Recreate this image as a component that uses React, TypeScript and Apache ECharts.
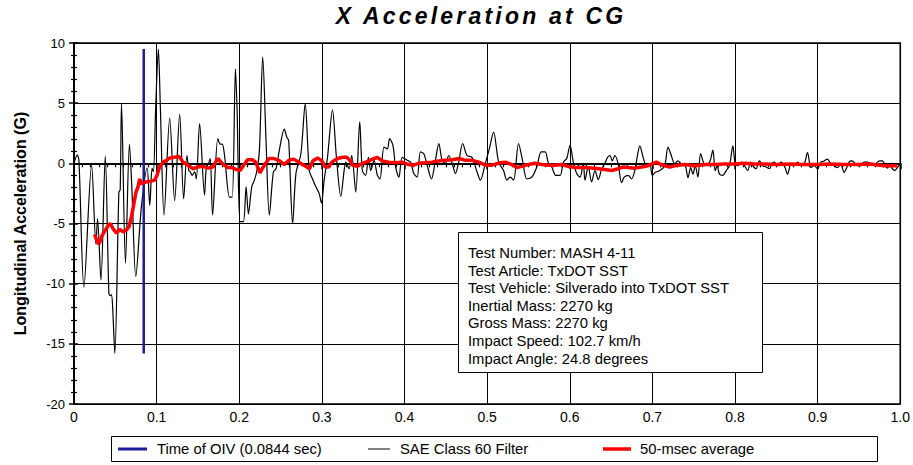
import React, { useEffect, useRef } from "react";
import * as echarts from "echarts";

const FONT = "'Liberation Sans', Arial, sans-serif";
const TITLE = "X Acceleration at CG";
const Y_NAME = "Longitudinal Acceleration (G)";

const X_MIN = 0;
const X_MAX = 1;
const X_STEP = 0.1;
const Y_MIN = -20;
const Y_MAX = 10;
const Y_STEP = 5;

const OIV_TIME = 0.0844;
const OIV_SPAN = [-15.8, 9.5];

const legendLabels = ["Time of OIV (0.0844 sec)", "SAE Class 60 Filter", "50-msec average"];

const infoLines = [
  "Test Number: MASH 4-11",
  "Test Article: TxDOT SST",
  "Test Vehicle: Silverado into TxDOT SST",
  "Inertial Mass: 2270 kg",
  "Gross Mass: 2270 kg",
  "Impact Speed: 102.7 km/h",
  "Impact Angle: 24.8 degrees",
];

// SAE Class 60 filtered signal (time s, G)
const sae60 = [
  [0.0, 0], [0.004, 0.7], [0.006, 0.2], [0.012, -10.3], [0.0213, -0.15], [0.0265, -6.7],
  [0.0285, -4.6], [0.0326, -9.7], [0.0378, 0.6], [0.0422, -10.8], [0.0438, -11.0], [0.0452, -10.9],
  [0.0466, -11.7], [0.0494, -15.8], [0.0543, -2.4], [0.0559, -2.2], [0.0575, 5.0], [0.0623, -8.3],
  [0.0671, 1.6], [0.07, -2.0], [0.0748, -9.4], [0.0816, -3.6], [0.0885, -0.4], [0.0917, -3.5],
  [0.0945, -0.4], [0.0961, -0.7], [0.0989, 4.7], [0.1021, 9.5], [0.1045, 4.7], [0.109, -4.3],
  [0.1158, 3.75], [0.1218, -3.1], [0.1279, 4.1], [0.1327, -2.95], [0.1367, 0.65], [0.139, -0.6],
  [0.1407, -0.7], [0.1431, -1.0], [0.146, -0.7], [0.148, -1.3], [0.152, 3.3], [0.158, -2.65],
  [0.16, -0.45], [0.1628, 0], [0.1649, 0.4], [0.1677, -4.3], [0.1741, 2.05], [0.177, 1.6],
  [0.1794, 1.6], [0.1822, 0.65], [0.1882, -2.8], [0.1915, -2.8], [0.1954, 7.85], [0.1974, 4.4],
  [0.201, -4.85], [0.205, -4.85], [0.2083, -1.95], [0.2111, -4.2], [0.2151, -1.95], [0.2183, -1.4],
  [0.2211, -0.7], [0.2244, 1.1], [0.2284, 8.85], [0.2324, 1.9], [0.2364, -4.3], [0.2413, -0.7],
  [0.2445, -0.45], [0.2485, 1.1], [0.2545, 2.85], [0.2574, 2.2], [0.2598, 1.9], [0.2646, -5.0],
  [0.2686, -0.85], [0.2746, 0.8], [0.2798, 4.95], [0.2847, -0.6], [0.2887, -1.3], [0.2927, -1.95],
  [0.2967, -2.5], [0.2995, -3.3], [0.3027, -1.4], [0.3068, 0.5], [0.3128, 4.45], [0.3176, 0.5],
  [0.3229, -2.75], [0.3269, -0.6], [0.3289, 0.1], [0.3329, -0.45], [0.3361, 0.65], [0.341, -2.4],
  [0.3458, 3.45], [0.349, -0.6], [0.353, -1.0], [0.3563, 0.5], [0.3591, -0.6], [0.3631, 0.25],
  [0.3672, -1.0], [0.3703, -1.3], [0.3752, 1.35], [0.3792, 1.2], [0.382, 2.05], [0.386, 1.5],
  [0.3892, -0.3], [0.3932, -1.15], [0.3973, 0.5], [0.4033, 0.25], [0.4073, 0.1], [0.4113, -0.85],
  [0.4153, -1.15], [0.4193, 0.95], [0.4234, 0.8], [0.4274, -0.15], [0.4326, -1.3], [0.4374, 0.25],
  [0.4415, 1.65], [0.4455, 0.25], [0.4495, 0], [0.4535, 0.65], [0.4576, 0], [0.4616, -0.85],
  [0.4656, 0.1], [0.4704, 1.65], [0.4757, 0.65], [0.4817, 0.5], [0.4877, -0.7], [0.4918, -1.4],
  [0.4978, 0], [0.5026, 1.2], [0.5078, 2.6], [0.5139, 0.1], [0.5199, -0.6], [0.5239, -1.4],
  [0.528, -1.15], [0.532, -1.4], [0.538, 1.65], [0.5428, 0.25], [0.5481, -1.3], [0.5541, -1.15],
  [0.5601, -0.3], [0.5654, 0.95], [0.5702, 0.95], [0.5742, 0], [0.5782, -0.3], [0.583, -1.0],
  [0.5883, -1.0], [0.5923, 0.1], [0.5963, 0.4], [0.6003, 1.5], [0.6043, 0.1], [0.6084, -0.85],
  [0.6124, -1.15], [0.6164, 0], [0.6184, -1.4], [0.6224, -0.3], [0.6264, -1.55], [0.6305, -0.6],
  [0.6345, -1.35], [0.6385, -0.5], [0.6425, 0.0], [0.6458, 0.5], [0.6486, 0.65], [0.6514, 0.2],
  [0.6546, 0.65], [0.6586, -0.05], [0.6627, -1.6], [0.6659, -1.15], [0.6707, -1.0], [0.6747, -1.3],
  [0.6787, -0.6], [0.6819, 0.65], [0.6848, 1.45], [0.6888, 0.5], [0.6928, -0.2], [0.6968, -0.05],
  [0.7, -1.0], [0.7037, -0.75], [0.7089, -0.6], [0.7149, -0.2], [0.7189, 1.35], [0.7229, 0.65],
  [0.727, -0.05], [0.731, 0.2], [0.735, -0.05], [0.7398, -0.2], [0.7431, -1.2], [0.7463, -0.35],
  [0.7491, -0.9], [0.7519, -0.2], [0.7551, -1.15], [0.7583, 0.8], [0.7612, 0.2], [0.7632, -0.2],
  [0.7692, 0.1], [0.7732, 1.1], [0.776, -0.6], [0.7784, -0.2], [0.7812, -0.9], [0.7853, -1.0],
  [0.7893, -0.6], [0.7933, -0.2], [0.7974, 1.45], [0.8002, -0.05], [0.8034, -0.2], [0.8074, 0.1],
  [0.8114, -0.2], [0.8155, -0.6], [0.8187, 0.1], [0.8215, -0.2], [0.8255, -0.45], [0.8295, 0.2],
  [0.8335, -0.2], [0.8376, -0.3], [0.8416, -0.45], [0.8444, -0.05], [0.8476, 0.1], [0.8516, -0.2],
  [0.8556, 0.1], [0.8597, -0.2], [0.8637, -0.9], [0.8677, -0.05], [0.8717, -0.2], [0.8758, 0.1],
  [0.8798, -0.2], [0.8838, -0.05], [0.8878, 0.9], [0.8918, -0.35], [0.8958, -0.2], [0.8999, -0.45],
  [0.9039, 0.1], [0.9079, 0.2], [0.9119, 0.35], [0.9159, -0.05], [0.92, -0.2], [0.924, -0.35],
  [0.928, -0.05], [0.932, -0.75], [0.9353, -0.35], [0.9381, 0.1], [0.9409, 0.2], [0.9441, 0.1],
  [0.9481, -0.2], [0.9521, -0.2], [0.9562, 0.1], [0.9602, 0.1], [0.9642, -0.05], [0.9682, -0.2],
  [0.9722, 0.1], [0.9763, 0.2], [0.9783, 0.2], [0.9811, -0.05], [0.9843, -0.4], [0.9875, -0.2],
  [0.9903, -0.45], [0.9936, -0.6], [0.9964, -0.35], [0.9996, -0.1],
];

// 50-msec moving average (time s, G)
const avg50 = [
  [0.025, -5.9], [0.027, -6.3], [0.0295, -6.7], [0.031, -6.6], [0.034, -6.0], [0.0375, -5.6],
  [0.0415, -5.15], [0.044, -5.0], [0.047, -5.4], [0.0515, -5.8], [0.0555, -5.5], [0.0595, -5.7],
  [0.063, -5.55], [0.0665, -5.3], [0.0695, -4.45], [0.0725, -3.35], [0.075, -2.4], [0.0775, -1.95],
  [0.0795, -1.3], [0.0815, -1.7], [0.087, -1.55], [0.092, -1.5], [0.0975, -1.4], [0.1005, -1.0],
  [0.1035, -0.3], [0.108, 0.1], [0.112, 0.25], [0.116, 0.45], [0.122, 0.5], [0.126, 0.6],
  [0.129, 0.4], [0.132, 0.1], [0.138, -0.15], [0.144, -0.45], [0.15, -0.3], [0.156, -0.25],
  [0.162, -0.4], [0.168, -0.3], [0.174, 0.4], [0.18, -0.05], [0.186, -0.35], [0.191, -0.35],
  [0.196, -0.5], [0.201, -0.6], [0.205, -0.2], [0.21, 0.3], [0.216, 0.3], [0.22, 0.1],
  [0.225, -0.8], [0.23, -0.2], [0.236, 0.4], [0.242, 0.4], [0.248, 0.25], [0.2546, -0.1],
  [0.26, 0.25], [0.266, 0.35], [0.272, 0.1], [0.278, -0.15], [0.285, -0.45], [0.289, 0.2],
  [0.2948, 0.45], [0.3, 0.2], [0.304, -0.3], [0.308, -0.3], [0.312, 0.1], [0.319, 0.4],
  [0.325, 0.5], [0.33, 0.5], [0.334, 0.25], [0.337, -0.15], [0.343, -0.25], [0.349, 0.0],
  [0.357, 0.2], [0.363, 0.4], [0.367, 0.5], [0.373, 0.2], [0.381, 0.1], [0.389, 0.05],
  [0.397, 0.1], [0.405, -0.1], [0.411, -0.15], [0.417, 0.0], [0.425, 0.05], [0.433, 0.1],
  [0.441, 0.2], [0.449, 0.25], [0.458, 0.3], [0.466, 0.4], [0.474, 0.25], [0.482, 0.25],
  [0.49, 0.1], [0.498, -0.15], [0.506, -0.15], [0.516, 0.05], [0.522, 0.1], [0.53, -0.1],
  [0.536, -0.35], [0.542, -0.25], [0.55, -0.1], [0.558, 0.0], [0.566, -0.1], [0.574, -0.15],
  [0.582, -0.15], [0.59, -0.1], [0.598, -0.25], [0.606, -0.35], [0.618, -0.35], [0.63, -0.4],
  [0.64, -0.5], [0.6506, -0.6], [0.6586, -0.45], [0.6647, -0.3], [0.6707, -0.35], [0.6787, -0.4],
  [0.6868, -0.3], [0.6948, -0.2], [0.7009, 0], [0.7049, 0.1], [0.7089, -0.05], [0.7149, -0.2],
  [0.721, -0.3], [0.727, -0.2], [0.739, -0.1], [0.751, -0.2], [0.7632, -0.1], [0.7753, -0.1],
  [0.7873, -0.05], [0.7994, -0.05], [0.8114, 0], [0.8235, -0.05], [0.8355, -0.05], [0.8516, -0.1],
  [0.8677, -0.05], [0.8838, -0.1], [0.8999, -0.1], [0.9159, -0.05], [0.932, -0.1], [0.9481, -0.1],
  [0.9642, -0.05], [0.9803, -0.2], [0.9964, -0.2],
];

const BLUE = "#1c1c96";
const RED = "#ff0000";
const BLACK = "#000000";

export default function App() {
  const ref = useRef<HTMLDivElement>(null);

  useEffect(() => {
    if (!ref.current) return;
    const chart = echarts.init(ref.current, null, { renderer: "svg" });

    const legendY = 449;
    const infoX = 458;
    const infoY = 232;
    const textFont = `14.8px ${FONT}`;

    chart.setOption({
      animation: false,
      backgroundColor: "#ffffff",
      grid: {
        left: 74,
        right: 10,
        top: 43,
        bottom: 61,
        show: true,
        borderColor: BLACK,
        borderWidth: 1.6,
        backgroundColor: "transparent",
      },
      xAxis: {
        type: "value",
        min: X_MIN,
        max: X_MAX,
        interval: X_STEP,
        axisLine: { show: true, lineStyle: { color: BLACK, width: 2 } },
        axisTick: { show: true, length: 6, lineStyle: { color: BLACK, width: 1.5 } },
        minorTick: { show: true, splitNumber: 10, length: 4, lineStyle: { color: BLACK, width: 1.2 } },
        splitLine: { show: true, lineStyle: { color: BLACK, width: 1 } },
        axisLabel: {
          color: BLACK,
          fontSize: 14,
          fontFamily: FONT,
          margin: 6,
          formatter: (v: number) => (v === 0 ? "0" : v.toFixed(1)),
        },
      },
      yAxis: [
        {
          type: "value",
          min: Y_MIN,
          max: Y_MAX,
          interval: Y_STEP,
          position: "left",
          axisLine: { show: true, lineStyle: { color: BLACK, width: 2 } },
          axisTick: { show: true, length: 5, lineStyle: { color: BLACK, width: 1.5 } },
          minorTick: { show: true, splitNumber: 5, length: 3, lineStyle: { color: BLACK, width: 1.2 } },
          splitLine: { show: true, lineStyle: { color: BLACK, width: 1 } },
          axisLabel: { color: BLACK, fontSize: 13, fontFamily: FONT, margin: 9 },
          name: Y_NAME,
          nameLocation: "middle",
          nameGap: 46,
          nameRotate: 90,
          nameTextStyle: { color: BLACK, fontSize: 16, fontWeight: "bold", fontFamily: FONT },
        },
        {
          type: "value",
          min: Y_MIN,
          max: Y_MAX,
          interval: Y_STEP,
          position: "left",
          offset: 0,
          axisLine: { show: true, lineStyle: { color: BLACK, width: 2 } },
          axisTick: { show: true, inside: true, length: 4, lineStyle: { color: BLACK, width: 1.5 } },
          minorTick: { show: true, splitNumber: 5, length: 3, lineStyle: { color: BLACK, width: 1.2 } },
          splitLine: { show: false },
          axisLabel: { show: false },
        },
      ],
      series: [
        {
          name: legendLabels[1],
          type: "line",
          data: sae60,
          symbol: "none",
          smooth: 0.3,
          lineStyle: { color: BLACK, width: 1.2 },
          z: 2,
        },
        {
          name: legendLabels[0],
          type: "line",
          data: OIV_SPAN.map((v) => [OIV_TIME, v]),
          symbol: "none",
          lineStyle: { color: BLUE, width: 2.5 },
          z: 3,
        },
        {
          name: legendLabels[2],
          type: "line",
          data: avg50,
          symbol: "none",
          lineStyle: { color: RED, width: 3.5 },
          z: 4,
        },
      ],
      graphic: [
        {
          type: "text",
          x: 481,
          y: 16,
          z: 100,
          style: {
            text: TITLE,
            fill: BLACK,
            font: `italic bold 23px ${FONT}`,
            textAlign: "center",
            textVerticalAlign: "middle",
          },
        },
        {
          type: "rect",
          z: 100,
          shape: { x: infoX + 0.5, y: infoY + 0.5, width: 304, height: 140 },
          style: { fill: "#ffffff", stroke: BLACK, lineWidth: 1 },
        },
        ...infoLines.map((line, i) => ({
          type: "text",
          z: 101,
          x: infoX + 10,
          y: infoY + 21 + i * 17.6,
          style: {
            text: line,
            fill: BLACK,
            font: textFont,
            textAlign: "left",
            textVerticalAlign: "middle",
          },
        })),
        {
          type: "rect",
          z: 100,
          shape: { x: 111.5, y: 436.5, width: 766, height: 25 },
          style: { fill: "#ffffff", stroke: BLACK, lineWidth: 1 },
        },
        {
          type: "line",
          z: 101,
          shape: { x1: 118, y1: legendY, x2: 147, y2: legendY },
          style: { stroke: BLUE, lineWidth: 3 },
        },
        {
          type: "text",
          z: 101,
          x: 157,
          y: legendY,
          style: { text: legendLabels[0], fill: BLACK, font: textFont, textVerticalAlign: "middle" },
        },
        {
          type: "line",
          z: 101,
          shape: { x1: 368, y1: legendY, x2: 390, y2: legendY },
          style: { stroke: BLACK, lineWidth: 1 },
        },
        {
          type: "text",
          z: 101,
          x: 400,
          y: legendY,
          style: { text: legendLabels[1], fill: BLACK, font: textFont, textVerticalAlign: "middle" },
        },
        {
          type: "line",
          z: 101,
          shape: { x1: 603, y1: legendY, x2: 631, y2: legendY },
          style: { stroke: RED, lineWidth: 3.5 },
        },
        {
          type: "text",
          z: 101,
          x: 640,
          y: legendY,
          style: { text: legendLabels[2], fill: BLACK, font: textFont, textVerticalAlign: "middle" },
        },
      ],
    });

    // widen the title's letter spacing as in the reference
    ref.current.querySelectorAll("text").forEach((t) => {
      if (t.textContent === TITLE) t.setAttribute("letter-spacing", "3.2");
    });

    return () => chart.dispose();
  }, []);

  return (
    <div
      ref={ref}
      style={{ position: "absolute", left: 0, top: 0, width: 913, height: 465, background: "#fff" }}
    />
  );
}
